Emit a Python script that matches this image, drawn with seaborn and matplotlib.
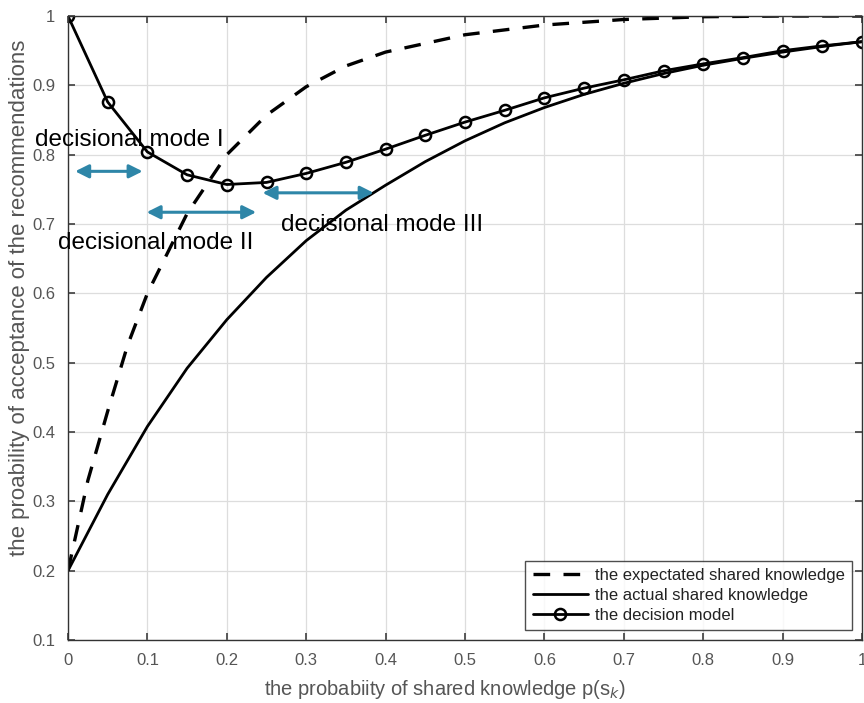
import numpy as np
import pandas as pd
import matplotlib
matplotlib.use("Agg")
import matplotlib.pyplot as plt
import seaborn as sns

# data
x_dec = [0, 0.05, 0.1, 0.15, 0.2, 0.25, 0.3, 0.35, 0.4, 0.45, 0.5, 0.55, 0.6, 0.65, 0.7, 0.75, 0.8, 0.85, 0.9, 0.95, 1.0]
y_dec = [1.0, 0.876, 0.804, 0.771, 0.757, 0.760, 0.773, 0.789, 0.808, 0.828, 0.847, 0.864, 0.882, 0.896, 0.908, 0.921, 0.931, 0.940, 0.950, 0.957, 0.963]
x_act = [0, 0.05, 0.1, 0.15, 0.2, 0.25, 0.3, 0.35, 0.4, 0.45, 0.5, 0.55, 0.6, 0.65, 0.7, 0.75, 0.8, 0.85, 0.9, 0.95, 1.0]
y_act = [0.2, 0.31, 0.408, 0.492, 0.562, 0.623, 0.676, 0.72, 0.756, 0.79, 0.82, 0.846, 0.868, 0.887, 0.903, 0.917, 0.929, 0.939, 0.948, 0.956, 0.963]
x_exp = [0, 0.025, 0.05, 0.075, 0.1, 0.15, 0.2, 0.25, 0.3, 0.35, 0.4, 0.5, 0.6, 0.7, 0.8, 0.9, 1.0]
y_exp = [0.2, 0.33, 0.43, 0.525, 0.6, 0.715, 0.8, 0.857, 0.898, 0.928, 0.948, 0.973, 0.987, 0.995, 0.999, 1.0, 1.0]

xticks = [0, 0.1, 0.2, 0.3, 0.4, 0.5, 0.6, 0.7, 0.8, 0.9, 1]
xticklabels = ["0", "0.1", "0.2", "0.3", "0.4", "0.5", "0.6", "0.7", "0.8", "0.9", "1"]
yticks = [0.1, 0.2, 0.3, 0.4, 0.5, 0.6, 0.7, 0.8, 0.9, 1]
yticklabels = ["0.1", "0.2", "0.3", "0.4", "0.5", "0.6", "0.7", "0.8", "0.9", "1"]

modes = ["decisional mode I", "decisional mode II", "decisional mode III"]
mode_text_xy = [(-0.042, 0.821), (-0.012, 0.673), (0.268, 0.699)]
mode_arrow_x = [(0.009, 0.094), (0.099, 0.237), (0.245, 0.385)]
mode_arrow_y = [0.776, 0.717, 0.745]

sns.set_theme(style="white")
plt.rcParams['font.family'] = ['Liberation Sans', 'DejaVu Sans']

fig = plt.figure(figsize=(8.64, 7.03), dpi=100)
ax = fig.add_axes([0.0787, 0.0896, 0.919, 0.8876])

df_exp = pd.DataFrame({"x": x_exp, "y": y_exp})
df_act = pd.DataFrame({"x": x_act, "y": y_act})
df_dec = pd.DataFrame({"x": x_dec, "y": y_dec})

sns.lineplot(data=df_exp, x="x", y="y", ax=ax, color="black", lw=2.4,
             linestyle=(0, (5, 4)), label="the expectated shared knowledge")
sns.lineplot(data=df_act, x="x", y="y", ax=ax, color="black", lw=2.0,
             label="the actual shared knowledge")
sns.lineplot(data=df_dec, x="x", y="y", ax=ax, color="black", lw=2.0,
             marker="o", markersize=8, markerfacecolor="none", markeredgecolor="black",
             markeredgewidth=1.8, label="the decision model")

ax.set_xlim(0, 1)
ax.set_ylim(0.1, 1)
ax.set_xticks(xticks)
ax.set_xticklabels(xticklabels)
ax.set_yticks(yticks)
ax.set_yticklabels(yticklabels)
ax.grid(True, color="#dddddd", lw=0.9)
ax.tick_params(direction="in", length=5, color="#444444", labelcolor="#555555", labelsize=12,
               top=True, right=True, bottom=True, left=True, pad=9)
for s in ax.spines.values():
    s.set_color("#333333")
    s.set_linewidth(1.0)

ax.set_xlabel("the probabiity of shared knowledge p(s$_k$)", color="#555555", fontsize=14.5)
ax.set_ylabel("the proability of acceptance of the recommendations", color="#555555", fontsize=16)
ax.xaxis.set_label_coords(0.475, -0.061)
ax.yaxis.set_label_coords(-0.048, 0.548)

for (tx, ty), txt in zip(mode_text_xy, modes):
    ax.text(tx, ty, txt, fontsize=17.5, color="black", va="center", ha="left", clip_on=False)
for (x0, x1), yy in zip(mode_arrow_x, mode_arrow_y):
    ax.annotate("", xy=(x1, yy), xytext=(x0, yy),
                arrowprops=dict(arrowstyle="<|-|>", color="#2E86A8", lw=2.2, mutation_scale=20,
                                shrinkA=0, shrinkB=0))

leg = ax.legend(loc="lower right", fontsize=12, frameon=True, fancybox=False,
                edgecolor="#222222", borderaxespad=0.6, handlelength=3.3, labelspacing=0.28,
                borderpad=0.45, handletextpad=0.4)
leg.get_frame().set_linewidth(1.0)
for t in leg.get_texts():
    t.set_color("#222222")

fig.savefig("out.png", dpi=100)
